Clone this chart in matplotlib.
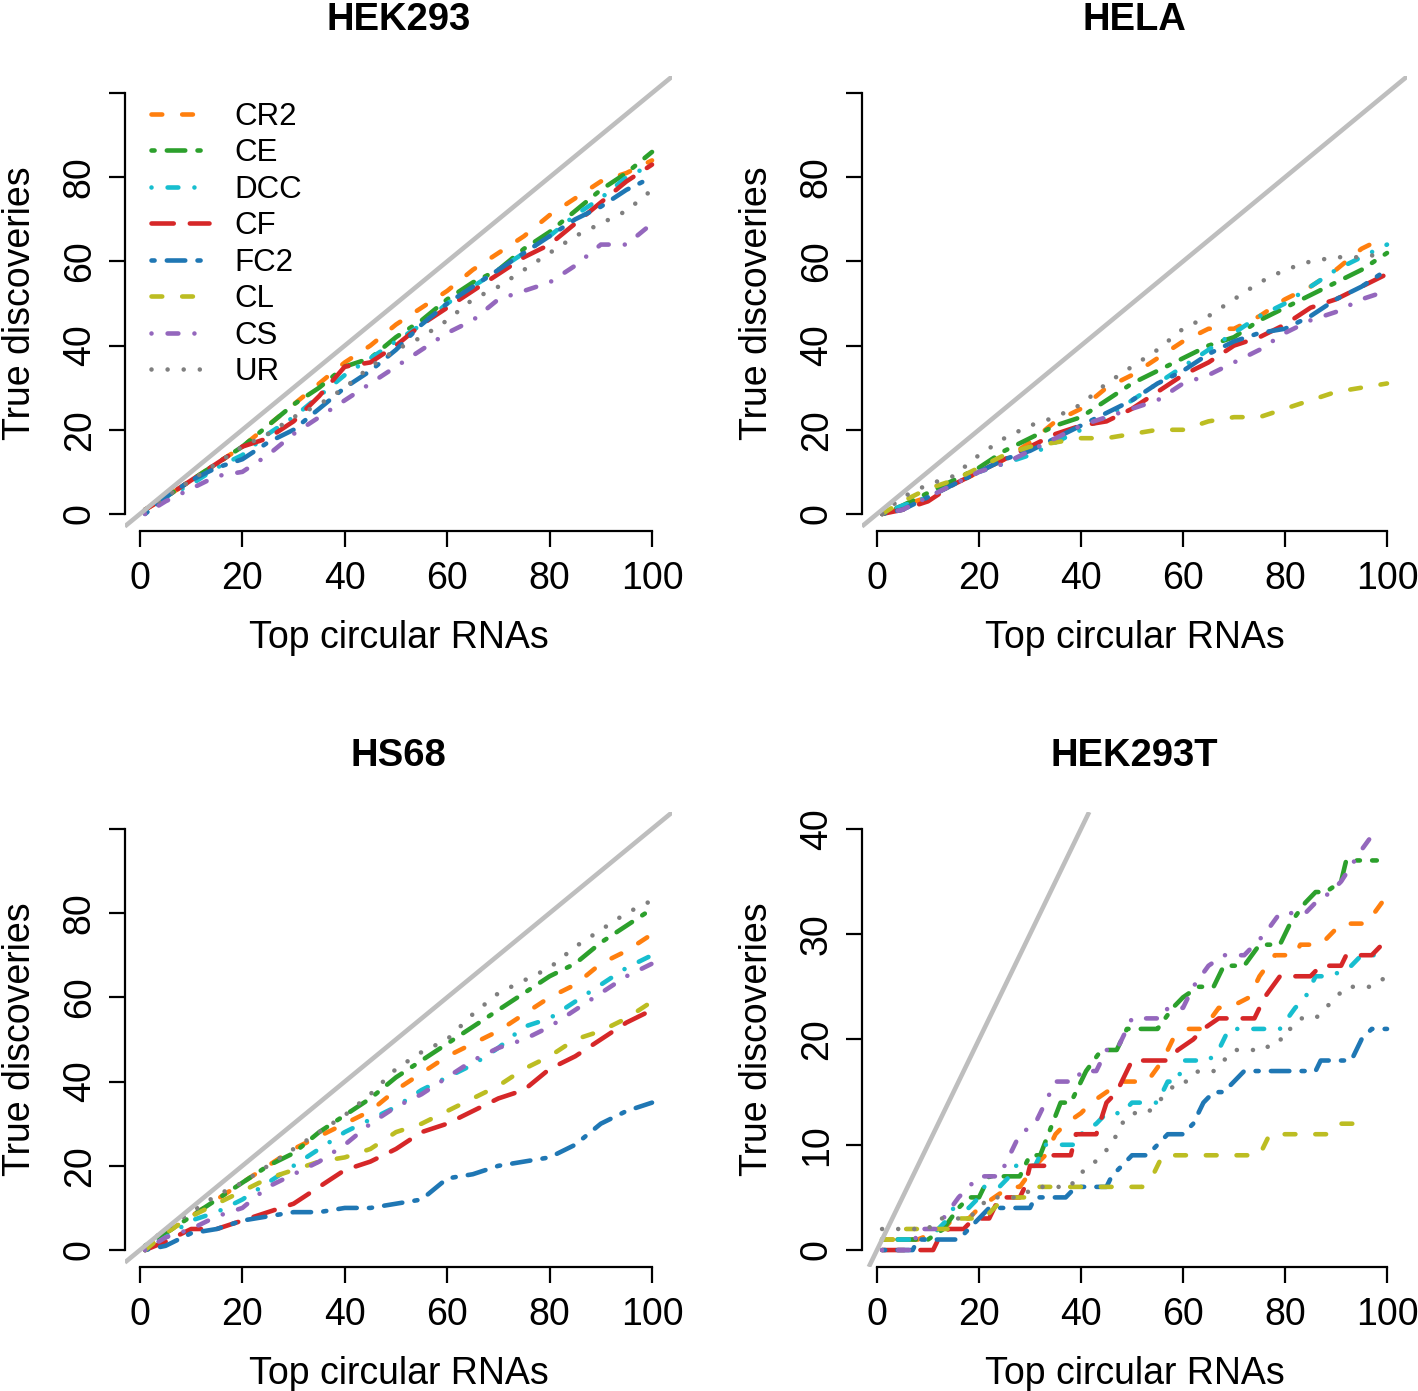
import matplotlib
matplotlib.use("Agg")
import matplotlib.pyplot as plt
from matplotlib.lines import Line2D

plt.rcParams['font.family'] = ['Liberation Sans', 'DejaVu Sans']
plt.rcParams['lines.scale_dashes'] = False

# methods, colours and R line types (hex dash strings as in R's lty)
methods = ['CR2', 'CE', 'DCC', 'CF', 'FC2', 'CL', 'CS', 'UR']
colors = ['#ff7f0e', '#2ca02c', '#17becf', '#d62728', '#1f77b4', '#bcbd22', '#9467bd', '#7f7f7f']
ltys = ['44', '2262', '1343', '73', '2262', '44', '1343', '13']

# number of top circular RNAs at which values were read (panels 1-3)
top_k = [1, 5, 10, 15, 20, 25, 30, 35, 40, 45, 50, 55, 60, 65, 70, 75, 80, 85, 90, 95, 100]

hek293 = {
    'CR2': [1, 4, 8, 12, 16, 21, 26, 31, 36, 40, 45, 49, 53, 58, 62, 66, 71, 75, 79, 81, 84],
    'CE':  [1, 4, 8, 12, 16, 21, 26, 30, 35, 37, 42, 46, 51, 55, 58, 63, 67, 72, 77, 81, 86],
    'DCC': [1, 4, 7, 11, 14, 19, 23, 28, 33, 37, 41, 45, 50, 54, 58, 62, 66, 71, 75, 80, 83],
    'CF':  [1, 4, 8, 12, 16, 18, 22, 28, 35, 36, 40, 45, 49, 53, 57, 61, 64, 69, 74, 79, 83],
    'FC2': [0, 4, 8, 11, 13, 17, 20, 25, 30, 34, 39, 45, 50, 54, 58, 62, 66, 70, 73, 77, 80],
    'CS':  [0, 3, 6, 9, 10, 14, 19, 23, 27, 31, 35, 39, 43, 46, 51, 53, 55, 59, 64, 64, 69],
    'UR':  [1, 4, 8, 12, 16, 19, 23, 26, 30, 35, 39, 42, 46, 51, 54, 58, 62, 66, 69, 72, 77],
}

hela = {
    'CR2': [0, 2, 4, 7, 10, 13, 17, 22, 25, 30, 33, 37, 41, 44, 44, 47, 51, 54, 58, 63, 66],
    'CE':  [0, 2, 5, 8, 11, 15, 18, 21, 23, 27, 31, 34, 37, 40, 42, 46, 49, 52, 55, 58, 62],
    'DCC': [0, 2, 4, 7, 10, 12, 14, 17, 20, 23, 27, 31, 35, 39, 43, 47, 50, 54, 58, 61, 64],
    'CF':  [0, 1, 3, 7, 10, 13, 16, 19, 21, 22, 25, 29, 33, 36, 40, 42, 45, 49, 51, 54, 57],
    'FC2': [0, 1, 4, 7, 10, 13, 15, 18, 21, 24, 27, 31, 34, 38, 41, 43, 44, 47, 51, 54, 58],
    'CL':  [0, 3, 6, 8, 11, 14, 16, 17, 18, 18, 19, 20, 20, 22, 23, 23, 25, 27, 29, 30, 31],
    'CS':  [0, 1, 4, 7, 10, 12, 15, 18, 21, 23, 25, 27, 31, 33, 36, 39, 43, 46, 48, 51, 53],
    'UR':  [0, 4, 7, 9, 14, 18, 21, 23, 26, 31, 35, 39, 44, 47, 51, 55, 58, 60, 61, 61, 62],
}

hs68 = {
    'CR2': [0, 4, 8, 12, 16, 20, 24, 27, 30, 33, 38, 42, 46, 49, 52, 56, 60, 63, 68, 71, 75],
    'CE':  [1, 4, 8, 12, 16, 20, 23, 28, 32, 36, 41, 45, 49, 53, 57, 61, 65, 68, 73, 77, 81],
    'DCC': [0, 3, 7, 9, 12, 16, 20, 24, 28, 31, 34, 38, 41, 44, 48, 53, 55, 59, 63, 67, 70],
    'CF':  [0, 2, 5, 5, 7, 9, 11, 15, 19, 21, 24, 28, 30, 33, 36, 38, 43, 46, 50, 54, 57],
    'FC2': [0, 1, 4, 5, 7, 8, 9, 9, 10, 10, 11, 12, 17, 18, 20, 21, 22, 25, 30, 33, 35],
    'CL':  [0, 4, 8, 11, 14, 17, 19, 21, 22, 24, 28, 30, 33, 36, 39, 43, 46, 50, 52, 55, 59],
    'CS':  [0, 3, 5, 8, 10, 15, 18, 21, 25, 30, 34, 37, 41, 45, 48, 50, 53, 57, 61, 65, 68],
    'UR':  [1, 5, 9, 13, 16, 20, 24, 28, 32, 37, 43, 47, 50, 56, 61, 64, 67, 72, 76, 80, 83],
}

# HEK293T: step curves read at their break points
hek293t_k = {
    'CR2': [1, 8, 13, 15, 18, 20, 23, 26, 28, 31, 33, 35, 37, 40, 42, 45, 48, 53, 56, 58, 61, 64, 67,
            69, 73, 75, 78, 82, 83, 87, 89, 91, 96, 99, 100],
    'CE':  [1, 10, 13, 16, 18, 20, 22, 28, 30, 32, 36, 38, 41, 44, 47, 49, 55, 58, 60, 63, 66, 68, 72,
            75, 79, 81, 84, 86, 88, 91, 92, 98],
    'DCC': [1, 10, 12, 14, 15, 18, 20, 21, 24, 26, 27, 31, 33, 39, 40, 43, 45, 48, 50, 55, 57, 59, 60,
            65, 67, 69, 79, 82, 84, 86, 89, 93, 95, 98],
    'CF':  [1, 11, 12, 14, 17, 19, 22, 24, 28, 29, 30, 33, 34, 38, 39, 43, 45, 47, 50, 57, 59, 62, 64,
            67, 74, 76, 79, 85, 87, 91, 92, 97, 99, 100],
    'FC2': [1, 7, 8, 16, 18, 20, 22, 30, 31, 37, 39, 45, 46, 48, 50, 53, 55, 57, 60, 62, 64, 66, 68,
            70, 72, 86, 87, 93, 95, 97, 100],
    'CL':  [1, 4, 5, 14, 15, 21, 23, 25, 29, 31, 52, 54, 56, 75, 77, 89, 91, 97],
    'CS':  [1, 7, 8, 12, 13, 16, 20, 24, 26, 28, 31, 33, 35, 39, 40, 43, 45, 47, 50, 56, 57, 60, 62,
            65, 68, 72, 74, 76, 79, 84, 86, 89, 91, 95, 98],
    'UR':  [1, 10, 12, 18, 20, 22, 28, 31, 38, 39, 42, 44, 46, 47, 48, 50, 53, 55, 57, 59, 61, 63, 66,
            68, 70, 76, 78, 80, 81, 83, 86, 88, 90, 92, 97, 100],
}
hek293t_v = {
    'CR2': [1, 1, 2, 3, 3, 4, 5, 6, 6, 8, 9, 11, 12, 13, 14, 15, 16, 16, 18, 20, 21, 21, 23,
            23, 24, 26, 28, 28, 29, 29, 30, 31, 31, 33, 33],
    'CE':  [1, 1, 2, 4, 5, 5, 7, 7, 9, 9, 14, 14, 17, 19, 19, 21, 21, 23, 24, 25, 25, 27, 27,
            29, 29, 31, 33, 34, 34, 35, 37, 37],
    'DCC': [1, 1, 2, 3, 4, 4, 5, 6, 6, 7, 8, 8, 10, 10, 11, 12, 13, 13, 14, 14, 16, 16, 18,
            18, 19, 21, 21, 23, 24, 26, 26, 27, 28, 28],
    'CF':  [0, 0, 1, 2, 2, 3, 3, 5, 5, 6, 8, 8, 9, 9, 11, 11, 14, 15, 18, 18, 19, 20, 21,
            22, 22, 24, 26, 26, 27, 27, 28, 28, 29, 29],
    'FC2': [0, 0, 1, 1, 2, 3, 4, 4, 5, 5, 6, 6, 7, 8, 9, 9, 10, 11, 11, 12, 14, 15, 15,
            16, 17, 17, 18, 18, 20, 21, 21],
    'CL':  [1, 1, 2, 2, 3, 3, 4, 5, 5, 6, 6, 7, 9, 9, 11, 11, 12, 12],
    'CS':  [0, 0, 2, 2, 3, 5, 7, 7, 9, 11, 12, 14, 16, 16, 17, 17, 19, 19, 22, 22, 23, 23, 25,
            27, 28, 28, 29, 30, 32, 32, 33, 34, 35, 38, 40],
    'UR':  [2, 2, 3, 3, 4, 5, 5, 6, 6, 7, 8, 9, 10, 11, 12, 13, 13, 14, 15, 16, 16, 17, 17,
            18, 19, 19, 20, 20, 21, 22, 22, 23, 24, 25, 25, 26],
}

LW = 3.3           # line width, pt
UNIT = 2.76        # R dash unit, pt
FS = 27
W, H = 1418, 1391


def r_dashes(lty):
    # R dash string -> matplotlib on/off sequence (compensating for round caps)
    seq = []
    for i, ch in enumerate(lty):
        n = int(ch, 16) * UNIT
        seq.append(max(n - LW, 0.01) if i % 2 == 0 else n + LW)
    return (0, tuple(seq))


def style_axes(ax, title, ymax, ystep):
    ax.set_xlim(1 - 0.04 * 99, 100 + 0.04 * 99)
    ax.set_ylim(-0.04 * ymax, ymax * 1.04)
    for side in ['top', 'right']:
        ax.spines[side].set_visible(False)
    ax.spines['left'].set_bounds(0, ymax)
    ax.spines['bottom'].set_bounds(0, 100)
    for side in ['left', 'bottom']:
        ax.spines[side].set_linewidth(1.6)
    ax.set_xticks(range(0, 101, 20))
    yt = list(range(0, ymax + 1, ystep))
    ax.set_yticks(yt)
    ax.set_yticklabels([str(v) if v < 100 else '' for v in yt])
    ax.tick_params(length=11.5, width=1.6, labelsize=FS, direction='out')
    ax.tick_params(axis='x', pad=10.5)
    ax.tick_params(axis='y', pad=8)
    for lab in ax.get_yticklabels():
        lab.set_rotation(90)
        lab.set_va('center')
    ax.set_title(title, fontsize=27.5, fontweight='bold', pad=33)
    ax.set_xlabel('Top circular RNAs', fontsize=FS)
    ax.set_ylabel('True discoveries', fontsize=FS)
    ax.xaxis.set_label_coords(0.5, -0.196)
    ax.yaxis.set_label_coords(-0.159, 0.5)


def draw_curves(ax, xs, ys):
    for m, c, lty in zip(methods, colors, ltys):
        if m not in ys:
            continue
        ax.plot(xs[m] if isinstance(xs, dict) else xs, ys[m], color=c, linestyle=r_dashes(lty), lw=LW,
                dash_capstyle='round', solid_capstyle='round', dash_joinstyle='round')
    ax.axline((0, 0), slope=1, color='#bebebe', lw=LW, solid_capstyle='butt')


fig = plt.figure(figsize=(W / 100, H / 100), dpi=100)

# axes boxes in pixels: left, top, right, bottom
boxes = [(124.8, 76.2, 672.3, 530.8), (861.9, 76.2, 1407.2, 530.8),
         (124.8, 812.0, 672.3, 1266.9), (861.9, 812.0, 1407.2, 1266.9)]
axes = []
for l, t, r, b in boxes:
    axes.append(fig.add_axes([l / W, 1 - b / H, (r - l) / W, (b - t) / H]))

draw_curves(axes[0], top_k, hek293)
style_axes(axes[0], 'HEK293', 100, 20)
draw_curves(axes[1], top_k, hela)
style_axes(axes[1], 'HELA', 100, 20)
draw_curves(axes[2], top_k, hs68)
style_axes(axes[2], 'HS68', 100, 20)
draw_curves(axes[3], hek293t_k, hek293t_v)
style_axes(axes[3], 'HEK293T', 40, 10)

handles = [Line2D([], [], color=c, linestyle=r_dashes(lty), lw=LW, dash_capstyle='round')
           for c, lty in zip(colors, ltys)]
axes[0].legend(handles, methods, loc='upper left', bbox_to_anchor=(0.048, 0.944),
               frameon=False, fontsize=22.5, handlelength=1.86, handletextpad=0.8,
               labelspacing=0.208, borderpad=0, borderaxespad=0)

fig.savefig('out.png', dpi=100)
